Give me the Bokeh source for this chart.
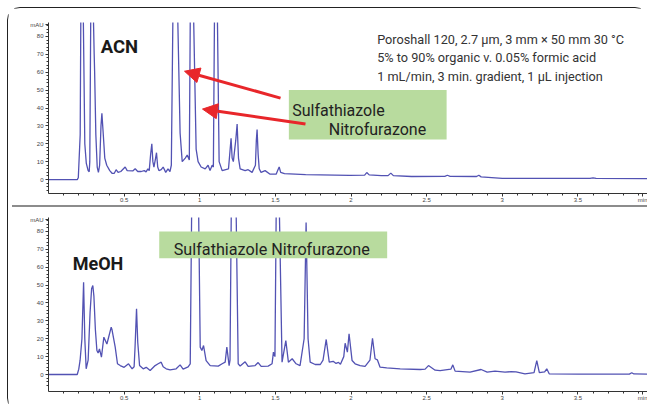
import numpy as np
from bokeh.plotting import figure
from bokeh.layouts import column
from bokeh.models import (Range1d, FixedTicker, Label, BoxAnnotation, Arrow, NormalHead, Spacer)
from bokeh.embed import file_html
from bokeh.resources import INLINE

# ---------------- data ----------------
acn_time = [0.0, 0.190, 0.197, 0.2095, 0.2135, 0.2227, 0.2305, 0.240, 0.250, 0.262, 0.269,
            0.273, 0.279, 0.289, 0.2975, 0.302, 0.305, 0.313, 0.322, 0.330,
            0.338, 0.347, 0.353, 0.360, 0.372, 0.385, 0.405, 0.420,
            0.435, 0.447, 0.460, 0.478, 0.507, 0.520, 0.557, 0.573, 0.590, 0.613, 0.633, 0.645, 0.657,
            0.666, 0.675, 0.683, 0.690, 0.697, 0.708, 0.714, 0.722, 0.730, 0.745, 0.758, 0.775, 0.790, 0.803,
            0.812, 0.822, 0.838, 0.855, 0.870, 0.884, 0.904, 0.917, 0.931,
            0.937, 0.948, 0.960, 0.976, 0.989, 1.009, 1.036, 1.055, 1.068, 1.082,
            1.090, 1.097, 1.107, 1.117, 1.128, 1.148,
            1.190, 1.200, 1.207, 1.214, 1.222, 1.238, 1.247, 1.256, 1.267, 1.300, 1.320, 1.346,
            1.368, 1.374, 1.379, 1.386, 1.393, 1.405, 1.432, 1.465, 1.505,
            1.515, 1.525, 1.535, 1.560, 1.700, 1.990, 2.090, 2.104, 2.120, 2.200, 2.245, 2.263, 2.280,
            2.400, 2.620, 2.637, 2.655, 2.830, 2.845, 2.860, 3.000, 3.580, 3.600, 3.620, 3.960]
acn_mau = [0.0, 0.0, 1.0, 25, 88, 250, 88, 20, 9, 5, 4.4,
           10, 88, 250, 88, 70, 60, 25, 7, 4,
           8, 30, 37, 28, 12, 8, 5, 3.5,
           3.5, 5.5, 4, 4.5, 7, 5, 4.8, 6, 4.5, 4.5, 5.0, 4.3, 6,
           5, 14, 20, 10, 7, 12, 15, 7, 5, 5.5, 7, 4, 6, 4.5,
           8, 88, 250, 88, 26, 10, 12, 13.7, 11,
           88, 250, 88, 17, 10, 7, 6, 8, 5, 8,
           7, 88, 250, 88, 10, 5,
           6, 16, 23, 12, 10, 22, 31, 12, 6, 5, 5.5, 4,
           8, 22, 28, 14, 6, 4, 5, 3, 3,
           5, 7, 4, 3.3, 2.8, 2.3, 2.5, 3.9, 2.6, 2.2, 2.2, 3.6, 2.2,
           1.7, 1.8, 2.4, 1.8, 1.7, 2.4, 1.5, 0.6, 0.6, 1.0, 0.6, 0.5]

meoh_time = [0.0, 0.190, 0.200, 0.209, 0.221, 0.232, 0.240, 0.249,
             0.262, 0.275, 0.285, 0.293, 0.300, 0.310, 0.320, 0.328, 0.337, 0.350, 0.366, 0.386, 0.395,
             0.4145, 0.420, 0.441, 0.456, 0.474, 0.500, 0.529, 0.553, 0.566,
             0.572, 0.582, 0.590, 0.602, 0.626, 0.646, 0.672, 0.705, 0.725, 0.745, 0.758, 0.778, 0.804,
             0.844, 0.870, 0.890, 0.923, 0.937, 0.946, 0.970, 0.993, 1.003, 1.014, 1.025, 1.042, 1.069,
             1.122, 1.148, 1.168, 1.179, 1.194, 1.200, 1.208, 1.224, 1.241, 1.254, 1.267, 1.300, 1.320,
             1.366, 1.386, 1.406, 1.452, 1.478, 1.487, 1.497, 1.505, 1.515, 1.527, 1.544, 1.569, 1.586,
             1.611, 1.637, 1.663, 1.690, 1.703, 1.716, 1.730, 1.763, 1.797, 1.815, 1.836, 1.856, 1.882,
             1.901, 1.917, 1.930, 1.952, 1.961, 1.976, 1.987, 2.007, 2.027, 2.060, 2.093, 2.125, 2.142,
             2.159, 2.174, 2.192, 2.236, 2.325, 2.457, 2.490, 2.512, 2.556, 2.589, 2.660, 2.673, 2.688,
             2.787, 2.860, 2.900, 2.952, 3.018, 3.058, 3.091, 3.150, 3.210, 3.228, 3.245, 3.280, 3.294,
             3.310, 3.500, 3.840, 3.856, 3.870, 3.960]
meoh_mau = [0.0, 0.0, 3, 8, 20, 51.6, 20, 3.2,
            8, 35, 48, 49.8, 44, 25, 13.4, 12, 14.3, 9.7, 20.9, 17, 20,
            26.5, 25, 15.3, 6, 5, 4, 6, 3.2, 4.3,
            15, 36.7, 18, 5, 3.2, 4, 2.2, 5, 6, 6.9, 4.3, 3.2, 2.6,
            3.2, 5.4, 3, 4.3, 6, 88, 250, 88, 15.3, 13.4, 16.2, 7.8, 5,
            4.7, 6, 6.9, 15.3, 5, 8, 88, 250, 88, 6, 4.7, 7.1, 4.5,
            5, 6.7, 4.5, 4.7, 6, 12.5, 10, 88, 200, 88, 6.9, 19, 6.9,
            8.8, 6, 5, 20, 85, 20, 6.9, 5.6, 5.6, 8, 19.6, 6.9, 7.4,
            6.2, 6.8, 5.7, 10, 17.5, 12.5, 22.8, 7.8, 6, 5, 4.5, 8, 20.3,
            8.8, 8.2, 4.1, 3.7, 3.2, 2.8, 3, 5.0, 2.4, 2.2, 3, 5.4, 1.9,
            1.3, 2.8, 1.3, 1.9, 1.3, 1.6, 1.5, 0.4, 1, 7.8, 1, 1.5, 3.2,
            0.4, 0.2, 0.2, 1, 0.3, 0.2]

y_ticks = [0, 10, 20, 30, 40, 50, 60, 70, 80]
x_ticks = [0.5, 1.0, 1.5, 2.0, 2.5, 3.0, 3.5]
x_tick_labels = ["0.5", "1", "1.5", "2", "2.5", "3", "3.5"]
y_unit = "mAU"
x_unit = "min"

# ---------------- styling ----------------
TRACE = "#5252b3"
FONT = "Roboto"
GREEN = "#b8db9e"
RED = "#e8262a"


def make_panel(height, top, bottom, ymin, ymax, t, v):
    p = figure(width=639, height=height, x_range=Range1d(0, 3.96), y_range=Range1d(ymin, ymax),
               min_border_left=40, min_border_right=0, min_border_top=top, min_border_bottom=bottom,
               output_backend="svg", toolbar_location=None)
    p.xgrid.visible = False
    p.ygrid.visible = False
    p.outline_line_color = None
    p.line(t, v, line_color=TRACE, line_width=1.3)

    xt = FixedTicker(ticks=x_ticks + [3.93], minor_ticks=list(np.round(np.arange(0.1, 3.95, 0.1), 2)))
    p.xaxis.ticker = xt
    p.xaxis.major_label_overrides = {**{tk: lb for tk, lb in zip(x_ticks, x_tick_labels)}, 3.93: x_unit}
    yt = FixedTicker(ticks=y_ticks + [86.5], minor_ticks=list(range(-6, 88, 2)))
    p.yaxis.ticker = yt
    p.yaxis.major_label_overrides = {86.5: y_unit}
    for ax in (p.xaxis[0], p.yaxis[0]):
        ax.axis_line_color = "#333333"
        ax.axis_line_width = 1
        ax.major_tick_line_color = "#333333"
        ax.minor_tick_line_color = "#333333"
        ax.major_tick_out = 3
        ax.major_tick_in = 0
        ax.minor_tick_out = 2
        ax.minor_tick_in = 0
        ax.major_label_text_font = "Liberation Sans"
        ax.major_label_text_font_size = "6px"
        ax.major_label_text_color = "#444444"
    p.xaxis.major_label_standoff = 0
    p.yaxis.major_label_standoff = 2
    return p


# panel canvases sit inside a rounded frame whose inner edge is at (8.5, 8.5)
p1 = make_panel(197, 14, 10, -7.8, 87.8, acn_time, acn_mau)
p2 = make_panel(203, 10, 19, -9.5, 87.8, meoh_time, meoh_mau)

# top panel annotations
p1.add_layout(Label(x=0.345, y=73.9, text="ACN", text_font=FONT, text_font_style="bold",
                    text_font_size="18.5px", text_color="#1a1a1a", text_baseline="alphabetic"))
for txt, yy in [("Poroshall 120, 2.7 µm, 3 mm × 50 mm 30 °C", 78.35),
                ("5% to 90% organic v. 0.05% formic acid", 68.35),
                ("1 mL/min, 3 min. gradient, 1 µL injection", 57.8)]:
    p1.add_layout(Label(x=2.173, y=yy, text=txt, text_font=FONT, text_font_size="12.7px",
                        text_color="#333333", text_baseline="alphabetic"))
p1.add_layout(BoxAnnotation(left=1.589, right=2.632, top=50.0, bottom=22.4,
                            fill_color=GREEN, fill_alpha=1, line_color=None))
p1.add_layout(Label(x=1.611, y=38.5, text="Sulfathiazole", text_font=FONT, text_font_size="16px",
                    text_color="#222222", text_baseline="alphabetic"))
p1.add_layout(Label(x=1.853, y=27.93, text="Nitrofurazone", text_font=FONT, text_font_size="16px",
                    text_color="#222222", text_baseline="alphabetic"))
p1.add_layout(Arrow(x_start=1.534, y_start=45.55, x_end=0.899, y_end=60.56, line_color=RED, line_width=3,
                    end=NormalHead(size=15, fill_color=RED, line_color=RED)))
p1.add_layout(Arrow(x_start=1.699, y_start=31.1, x_end=1.018, y_end=39.4, line_color=RED, line_width=3,
                    end=NormalHead(size=15, fill_color=RED, line_color=RED)))

# bottom panel annotations
p2.add_layout(Label(x=0.160, y=62.24, text="MeOH", text_font=FONT, text_font_style="bold",
                    text_font_size="18px", text_color="#1a1a1a", text_baseline="alphabetic"))
p2.add_layout(BoxAnnotation(left=0.732, right=2.239, top=79.97, bottom=65.04,
                            fill_color=GREEN, fill_alpha=1, line_color=None))
p2.add_layout(Label(x=0.828, y=69.74, text="Sulfathiazole Nitrofurazone", text_font=FONT,
                    text_font_size="16.2px", text_color="#222222", text_baseline="alphabetic"))

divider = Spacer(width=635, height=2, margin=(0, 0, 0, 4), styles={"background-color": "#8c8c8c"})

layout = column(p1, divider, p2, spacing=0, margin=(7, 0, 0, 7),
                styles={"border": "1.5px solid #222222", "border-radius": "13px"})
open("out.html", "w").write(file_html(layout, INLINE))
